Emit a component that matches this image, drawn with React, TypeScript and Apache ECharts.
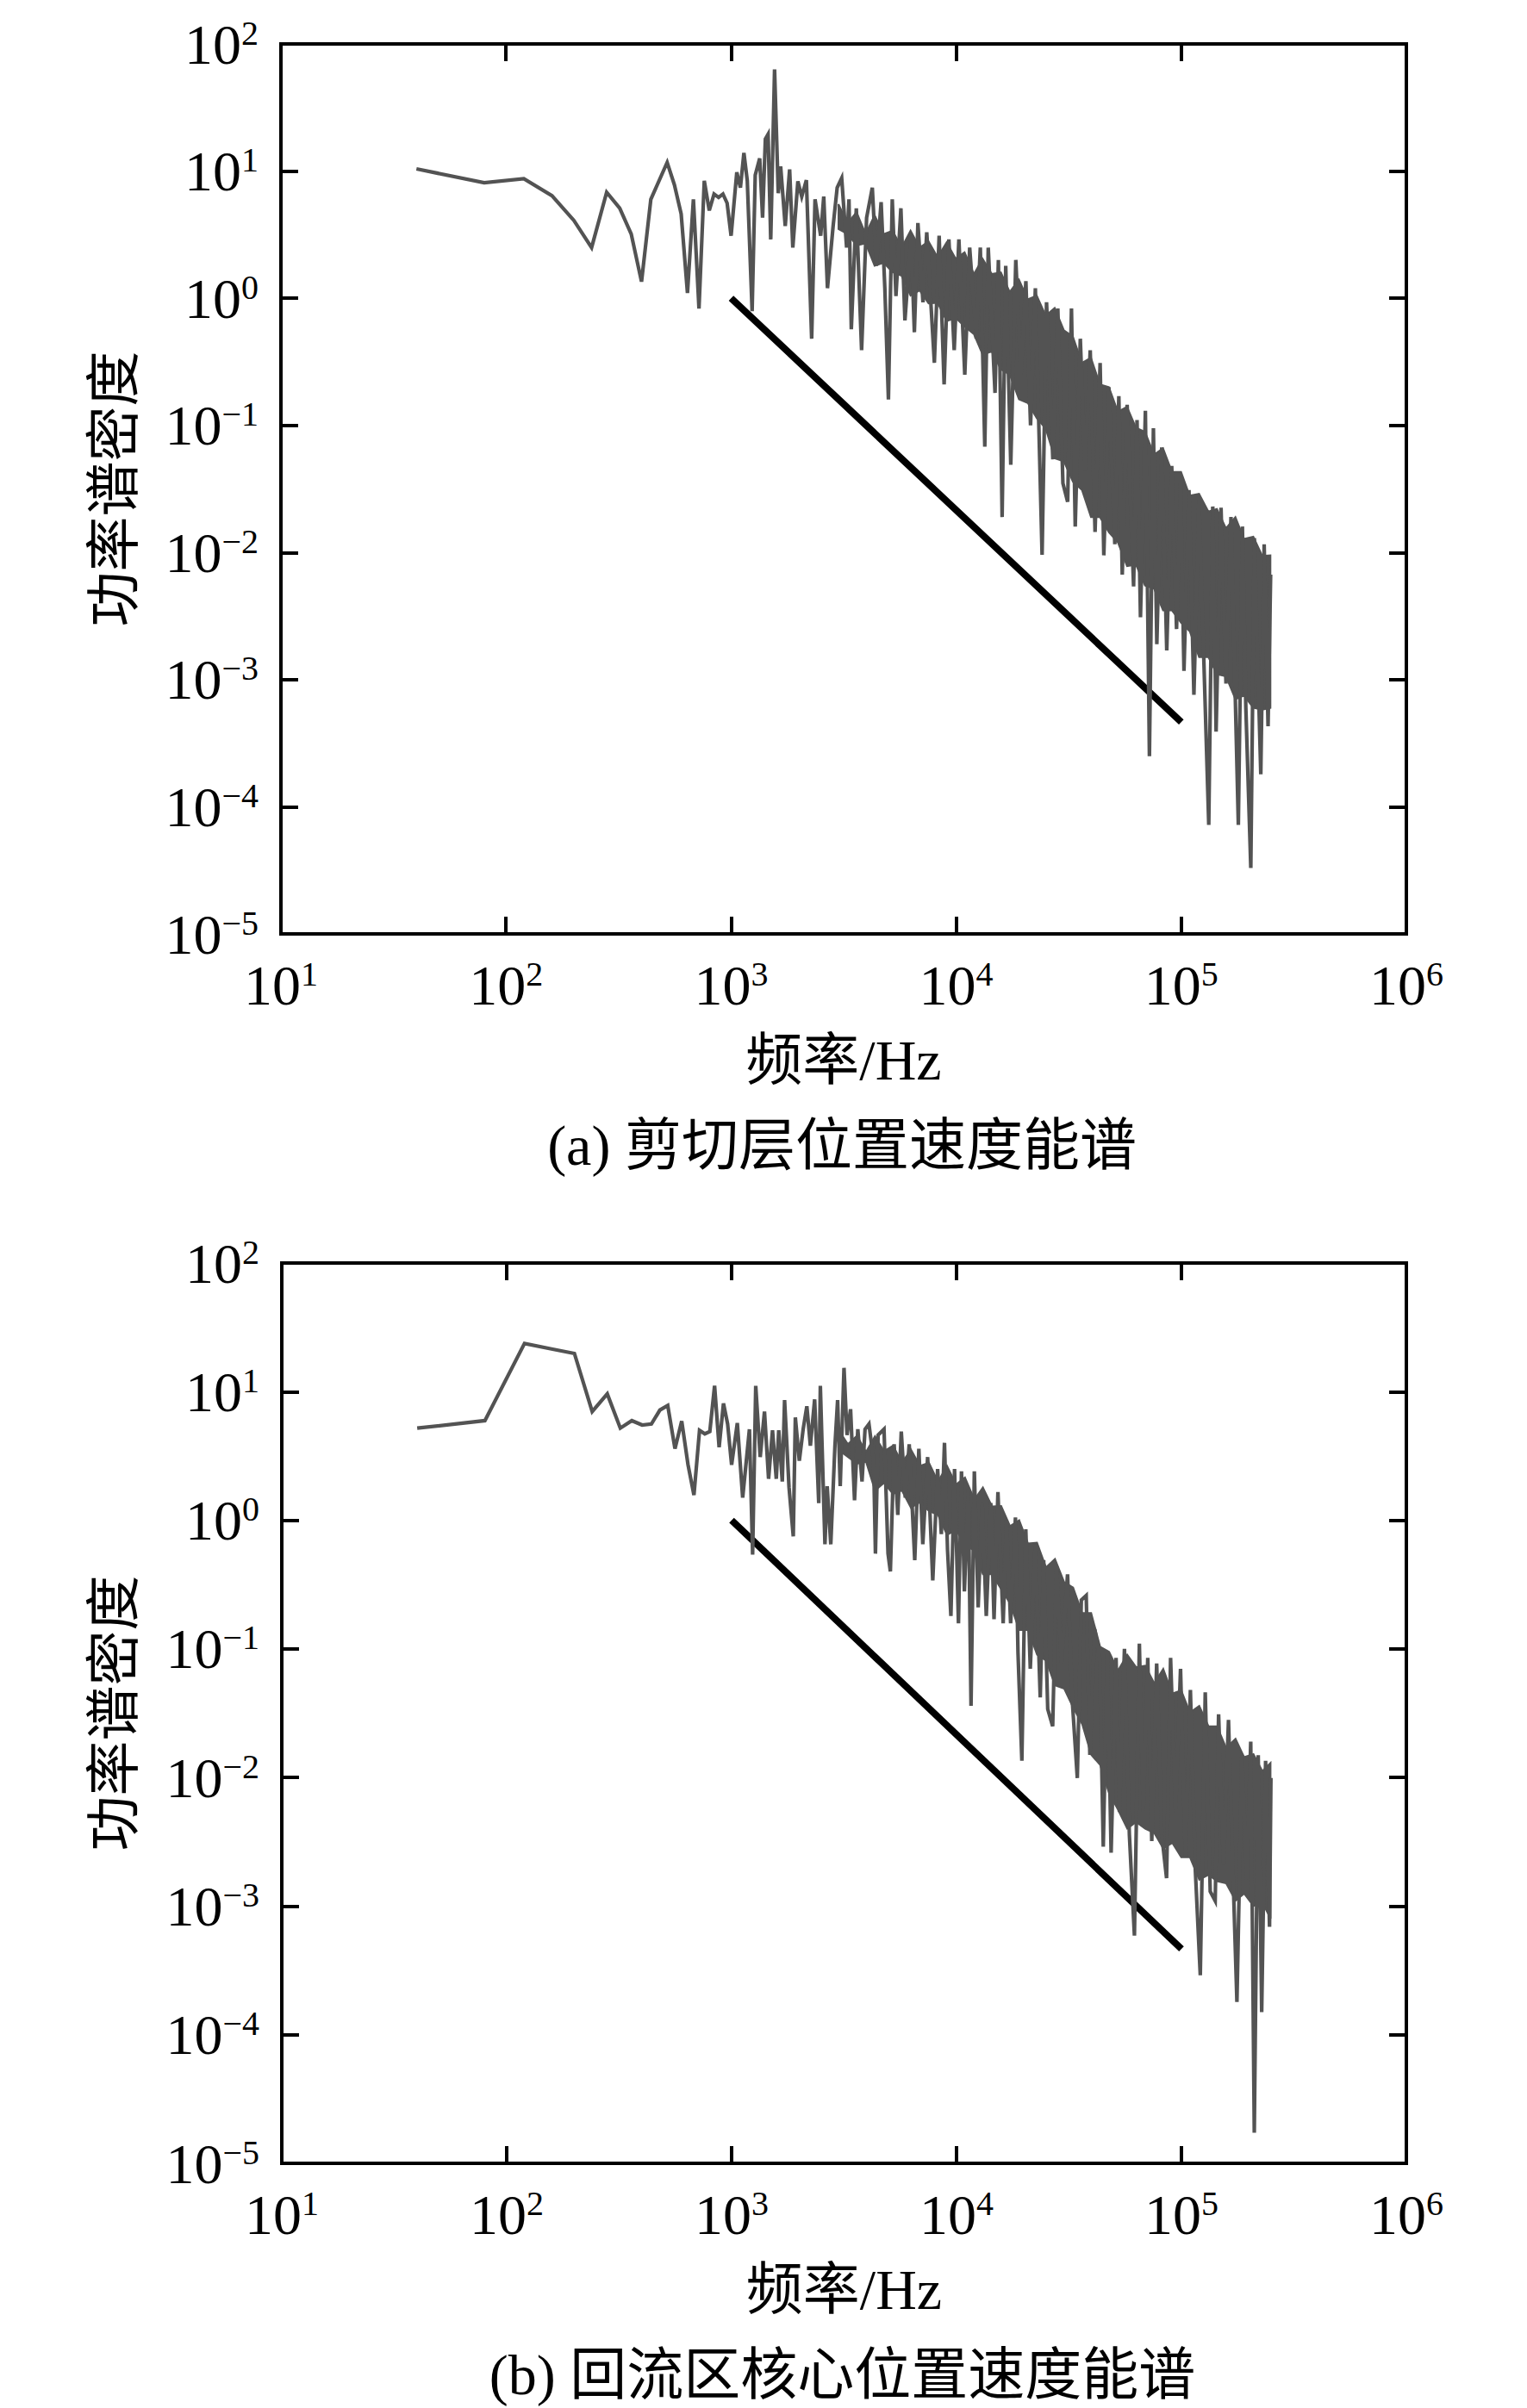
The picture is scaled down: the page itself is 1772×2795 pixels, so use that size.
import React, { useEffect, useRef } from "react";
import * as echarts from "echarts";

// ---------- data ----------
const xTickExponents = [1, 2, 3, 4, 5, 6];
const yTickExponents = [2, 1, 0, -1, -2, -3, -4, -5];

const yAxisName = "功率谱密度";
const xAxisName = "频率/Hz";
const captionA = "(a) 剪切层位置速度能谱";
const captionB = "(b) 回流区核心位置速度能谱";

// -5/3 reference line
const refFreq = [1000, 100000];
const refPsdA = [1, 0.000464];
const refPsdB = [1, 0.000464];

// (a) shear-layer spectrum: individual visible peaks / dips
const freqA = [
  40, 80, 120, 160, 200, 240, 280, 320, 360, 400, 440, 520, 560, 600, 640, 680, 720, 760, 800, 840,
  880, 920, 960, 1000, 1060, 1100, 1140, 1180, 1240, 1280, 1340, 1380, 1420, 1460, 1500, 1560, 1620, 1660, 1740, 1820,
  1880, 1980, 2060, 2160, 2280, 2360, 2500, 2580, 2680, 2840, 2960, 3100, 3260, 3340, 3420, 3600, 3800, 4000, 4240, 4420,
  4640, 4820, 5000, 5200, 5400, 5680, 5920, 6300, 6520, 6760, 7120, 7400, 8000, 8400, 8840, 9280, 9800, 10280, 10920, 11480,
  12280, 12800, 13400, 13880, 14880, 15400, 16000, 16600, 17480, 18400, 19400, 20400, 21400, 22480, 24080, 25200, 26880, 28280, 29800, 31280,
  32520, 33800, 35600, 37400, 39400, 41400, 43600, 45280, 47680, 50680, 52800, 54680, 57480, 61400, 63600, 65880, 69280, 72200, 75200, 77880,
  81880, 86200, 90680, 95280, 99280, 102800, 108200, 113800, 119800, 126000, 132480, 138000, 142800, 150200, 158000, 166280, 179280, 186880, 193600, 203680,
  211200, 225600, 233480, 243000, 249480,
];
const psdA = [
  10.4, 8.1, 8.7, 6.4, 4.1, 2.5, 6.8, 5.1, 3.2, 1.35, 6.0, 11.7, 7.8, 4.6, 1.1, 6.0, 0.83, 8.4, 4.9, 6.6,
  6.2, 6.6, 5.6, 3.1, 9.8, 7.4, 13.9, 8.4, 0.79, 9.3, 12.6, 4.3, 17.9, 19.5, 2.9, 63, 6.7, 10.9, 3.7, 10.3,
  2.5, 8.3, 6.3, 8.5, 0.48, 6.0, 3.1, 6.3, 1.2, 3.7, 7.4, 8.8, 2.5, 6.0, 0.57, 5.1, 0.39, 4.3, 7.4, 1.8,
  5.7, 1.2, 0.16, 6.0, 1.04, 5.1, 0.67, 3.1, 0.54, 3.9, 0.93, 3.3, 0.31, 3.1, 0.21, 2.9, 0.39, 2.9, 0.25, 2.5,
  0.48, 2.5, 0.068, 2.5, 0.18, 2.0, 0.019, 1.8, 0.049, 2.0, 0.25, 1.36, 0.1, 1.2, 0.0096, 0.93, 0.054, 0.83, 0.035, 0.025,
  0.83, 0.016, 0.48, 0.044, 0.39, 0.0145, 0.31, 0.0095, 0.2, 0.0116, 0.17, 0.0067, 0.145, 0.0054, 0.11, 0.0031, 0.13, 0.00025, 0.095, 0.0019,
  0.067, 0.0017, 0.048, 0.0025, 0.035, 0.00117, 0.031, 0.00076, 0.026, 0.0014, 0.000072, 0.023, 0.00039, 0.0225, 0.00093, 0.019, 0.000072, 0.016, 0.0006, 0.000033,
  0.013, 0.00018, 0.0116, 0.00043, 0.0067,
];

// frequencies at which the edges of the dense (solid) part were read
const bandFreq = [
  3000, 3290, 3610, 3960, 4340, 4760, 5220, 5720, 6270, 6880, 7540, 8270, 9070, 9950, 10900, 12000,
  13100, 14400, 15800, 17300, 19000, 20800, 22800, 25000, 27400, 30100, 33000, 36200, 39700, 43500, 47700, 52300,
  57400, 62900, 69000, 75700, 83000, 91000, 99800, 109000, 120000, 132000, 144000, 158000, 174000, 190000, 209000, 229000,
  249000,
];
// (a) upper / lower edge of the solid core
const bandUpperA = [
  5.5, 3.9, 4.75, 3.2, 4.5, 3.2, 3.4, 2.5, 3.4, 2.5, 2.8, 2.1, 2.75, 2.05, 2.3, 1.55,
  2.05, 1.55, 1.6, 1.12, 1.4, 0.98, 1.05, 0.73, 0.84, 0.56, 0.5, 0.31, 0.34, 0.21, 0.2, 0.128,
  0.14, 0.096, 0.089, 0.059, 0.066, 0.043, 0.043, 0.028, 0.029, 0.021, 0.022, 0.0155, 0.019, 0.0128, 0.0133, 0.0094,
  0.0095,
];
const bandLowerA = [
  3.5, 3.2, 2.6, 2.7, 1.8, 1.9, 1.6, 1.5, 1.05, 1.15, 0.91, 0.92, 0.66, 0.7, 0.6, 0.52,
  0.36, 0.38, 0.275, 0.25, 0.16, 0.15, 0.114, 0.094, 0.055, 0.052, 0.036, 0.031, 0.019, 0.019, 0.0144, 0.012,
  0.0078, 0.008, 0.0055, 0.0052, 0.0035, 0.0035, 0.0028, 0.0024, 0.0015, 0.0015, 0.0011, 0.00106, 0.0007, 0.00075, 0.0006, 0.00058,
  0.0006,
];

// (b) recirculation-core spectrum: individual visible peaks / dips
const freqB = [
  40, 80, 120, 160, 200, 240, 280, 320, 360, 400, 440, 480, 520, 560, 600, 640, 680, 720, 760, 800,
  840, 880, 920, 960, 1000, 1060, 1120, 1200, 1240, 1280, 1340, 1400, 1460, 1520, 1580, 1620, 1680, 1720, 1800, 1880,
  1920, 2000, 2080, 2160, 2240, 2340, 2440, 2480, 2600, 2660, 2760, 2880, 2960, 3040, 3160, 3260, 3380, 3520, 3640, 3800,
  3920, 4080, 4280, 4360, 4480, 4760, 4960, 5080, 5280, 5480, 5680, 5920, 6160, 6520, 6800, 7080, 7440, 7840, 8240, 8560,
  8840, 9120, 9440, 9800, 10200, 10520, 10840, 11280, 11600, 12000, 12480, 13000, 13560, 14200, 14680, 15280, 16120, 16680, 17400, 18280,
  18760, 19520, 20320, 21280, 22400, 23560, 24400, 25440, 26760, 27840, 29280, 31160, 32760, 34440, 35880, 37720, 39160, 41160, 43280, 44920,
  46800, 48680, 51200, 53000, 55800, 58680, 61800, 65000, 67640, 70840, 73800, 77600, 81720, 85880, 89480, 94200, 99080, 104200, 109600, 115280,
  121280, 127600, 134280, 141280, 146280, 153880, 161880, 170280, 176480, 185680, 195400, 203280, 210800, 219480, 227400, 236680, 246400, 249960,
];
const psdB = [
  5.2, 5.95, 23.7, 21.4, 19.8, 7.0, 9.6, 5.2, 5.95, 5.5, 5.6, 7.2, 7.8, 3.6, 5.9, 2.7, 1.57, 5.0, 4.7, 4.9,
  11.1, 3.7, 8.1, 5.6, 2.7, 5.7, 1.5, 5.1, 0.54, 11.1, 3.1, 7.0, 2.1, 5.0, 2.1, 5.0, 2.0, 8.6, 1.8, 0.75,
  6.3, 2.9, 5.1, 7.7, 3.8, 8.7, 1.36, 11.1, 0.65, 1.84, 0.65, 3.8, 8.6, 1.84, 15.3, 4.6, 7.3, 1.43, 5.1, 2.0,
  5.1, 5.6, 2.9, 0.55, 4.6, 5.1, 0.55, 0.4, 3.9, 1.1, 4.9, 1.5, 3.9, 0.49, 3.6, 0.65, 3.1, 0.34, 2.5, 0.78,
  4.0, 0.59, 0.18, 2.5, 0.158, 2.4, 0.28, 1.75, 0.036, 2.4, 0.21, 1.36, 0.18, 1.36, 0.17, 1.66, 0.158, 1.0, 0.158, 1.05,
  0.094, 0.0135, 0.85, 0.07, 0.65, 0.042, 0.49, 0.034, 0.025, 0.44, 0.077, 0.38, 0.038, 0.0099, 0.24, 0.26, 0.015, 0.142, 0.085, 0.0029,
  0.094, 0.0026, 0.085, 0.0054, 0.1, 0.0036, 0.00059, 0.11, 0.0054, 0.085, 0.0032, 0.077, 0.0036, 0.00165, 0.085, 0.0054, 0.07, 0.0024, 0.048, 0.0019,
  0.00029, 0.046, 0.0013, 0.0011, 0.031, 0.0021, 0.028, 0.0014, 0.00018, 0.0149, 0.0016, 0.019, 0.0000173, 0.0149, 0.00015, 0.0135, 0.00069, 0.0099,
];
// (b) upper / lower edge of the solid core
const bandUpperB = [
  5.0, 3.9, 4.55, 3.4, 4.5, 3.45, 3.8, 2.8, 3.55, 2.65, 2.8, 2.0, 2.65, 1.9, 2.15, 1.45,
  1.8, 1.28, 1.29, 0.9, 1.0, 0.66, 0.67, 0.43, 0.5, 0.33, 0.3, 0.19, 0.19, 0.104, 0.095, 0.068,
  0.09, 0.072, 0.074, 0.054, 0.07, 0.045, 0.0475, 0.032, 0.036, 0.025, 0.025, 0.017, 0.02, 0.0144, 0.0152, 0.0112,
  0.013,
];
const bandLowerB = [
  3.5, 3.1, 2.75, 2.85, 1.7, 1.95, 1.6, 1.7, 1.25, 1.38, 1.18, 1.1, 0.77, 0.84, 0.64, 0.58,
  0.38, 0.38, 0.29, 0.225, 0.14, 0.14, 0.09, 0.081, 0.052, 0.049, 0.035, 0.026, 0.015, 0.0125, 0.0075, 0.0056,
  0.004, 0.0045, 0.004, 0.0037, 0.0028, 0.0031, 0.0024, 0.0024, 0.0016, 0.00175, 0.00156, 0.0015, 0.0011, 0.00125, 0.001, 0.00106,
  0.0008,
];

// ---------- styling ----------
const FONT = "'Liberation Serif', 'Times New Roman', 'Noto Sans CJK SC', serif";
const W = 1772;
const H = 2795;
const GRAY = "#535353";

const panels = [
  {
    left: 326, top: 51, width: 1306, height: 1033,
    freq: freqA, psd: psdA, ref: refPsdA, caption: captionA,
    bandUpper: bandUpperA, bandLower: bandLowerA,
  },
  {
    left: 327, top: 1466, width: 1305, height: 1045,
    freq: freqB, psd: psdB, ref: refPsdB, caption: captionB,
    bandUpper: bandUpperB, bandLower: bandLowerB,
  },
];

const supText = (e: number) => (e < 0 ? "\u2212" + -e : String(e));
const labelFormatter = (v: number) => `{b|10}{s|${supText(Math.round(Math.log10(v)))}}`;
const richLabel = {
  b: { fontSize: 66, fontFamily: FONT, color: "#000", lineHeight: 66, verticalAlign: "bottom" },
  s: { fontSize: 40, fontFamily: FONT, color: "#000", lineHeight: 40, verticalAlign: "top" },
};

const axisLine = { show: true, onZero: false, lineStyle: { color: "#000", width: 4, cap: "square" } };
const axisTick = { show: true, inside: true, length: 20, lineStyle: { color: "#000", width: 4 } };

function buildOption() {
  const grid: any[] = [];
  const xAxis: any[] = [];
  const yAxis: any[] = [];
  const series: any[] = [];
  const graphic: any[] = [];

  panels.forEach((p, i) => {
    grid.push({ left: p.left, top: p.top, width: p.width, height: p.height, containLabel: false });
    const xBase = {
      type: "log",
      logBase: 10,
      min: Math.pow(10, xTickExponents[0]),
      max: Math.pow(10, xTickExponents[xTickExponents.length - 1]),
      splitNumber: xTickExponents.length - 1,
      gridIndex: i,
      axisLine,
      axisTick,
      splitLine: { show: false },
      minorTick: { show: false },
    };
    xAxis.push({
      ...xBase,
      position: "bottom",
      axisLabel: { show: true, margin: 26, formatter: labelFormatter, rich: richLabel },
    });
    xAxis.push({ ...xBase, position: "top", axisLabel: { show: false } });
    const yBase = {
      type: "log",
      logBase: 10,
      min: Math.pow(10, yTickExponents[yTickExponents.length - 1]),
      max: Math.pow(10, yTickExponents[0]),
      splitNumber: yTickExponents.length - 1,
      gridIndex: i,
      axisLine,
      axisTick,
      splitLine: { show: false },
      minorTick: { show: false },
    };
    yAxis.push({
      ...yBase,
      position: "left",
      axisLabel: { show: true, margin: 26, formatter: labelFormatter, rich: richLabel },
    });
    yAxis.push({ ...yBase, position: "right", axisLabel: { show: false } });

    series.push({
      type: "line",
      xAxisIndex: 2 * i,
      yAxisIndex: 2 * i,
      data: refFreq.map((f, k) => [f, p.ref[k]]),
      symbol: "none",
      lineStyle: { color: "#000", width: 8 },
      z: 2,
    });
    const bu = p.bandUpper;
    const bl = p.bandLower;
    series.push({
      type: "custom",
      coordinateSystem: "cartesian2d",
      xAxisIndex: 2 * i,
      yAxisIndex: 2 * i,
      data: bandFreq.map((f, k) => [f, bu[k], bl[k]]),
      encode: { x: 0, y: [1, 2] },
      renderItem: (params: any, api: any) => {
        if (params.dataIndex !== 0) return null;
        const pts: number[][] = [];
        for (let k = 0; k < bandFreq.length; k++) pts.push(api.coord([bandFreq[k], bu[k]]));
        for (let k = bandFreq.length - 1; k >= 0; k--) pts.push(api.coord([bandFreq[k], bl[k]]));
        return {
          type: "polygon",
          shape: { points: pts },
          style: { fill: GRAY, stroke: GRAY, lineWidth: 2, lineJoin: "miter" },
        };
      },
      z: 3,
      silent: true,
    });
    series.push({
      type: "line",
      xAxisIndex: 2 * i,
      yAxisIndex: 2 * i,
      data: p.freq.map((f, k) => [f, p.psd[k]]),
      symbol: "none",
      lineStyle: { color: GRAY, width: 4.2, join: "miter" },
      z: 4,
    });

    const cx = p.left + p.width / 2;
    graphic.push({
      type: "text",
      x: 132,
      y: p.top + p.height / 2,
      rotation: Math.PI / 2,
      style: {
        text: yAxisName,
        fontSize: 64,
        fontFamily: FONT,
        fill: "#000",
        textAlign: "center",
        textVerticalAlign: "middle",
        align: "center",
        verticalAlign: "middle",
      },
    });
    graphic.push({
      type: "text",
      x: cx,
      y: p.top + p.height + 146,
      style: {
        text: xAxisName,
        fontSize: 66,
        fontFamily: FONT,
        fill: "#000",
        textAlign: "center",
        textVerticalAlign: "middle",
        align: "center",
        verticalAlign: "middle",
      },
    });
    graphic.push({
      type: "text",
      x: cx - 2,
      y: p.top + p.height + 245,
      style: {
        text: p.caption,
        fontSize: 66,
        fontFamily: FONT,
        fill: "#000",
        textAlign: "center",
        textVerticalAlign: "middle",
        align: "center",
        verticalAlign: "middle",
      },
    });
  });

  return {
    animation: false,
    backgroundColor: "#fff",
    textStyle: { fontFamily: FONT },
    grid,
    xAxis,
    yAxis,
    series,
    graphic,
  };
}

export default function App() {
  const ref = useRef<HTMLDivElement>(null);
  useEffect(() => {
    document.body.style.margin = "0";
    if (!ref.current) return;
    const chart = echarts.init(ref.current, undefined, { renderer: "svg", width: W, height: H });
    chart.setOption(buildOption() as any);
    return () => chart.dispose();
  }, []);
  return <div ref={ref} style={{ width: W, height: H, background: "#fff" }} />;
}
